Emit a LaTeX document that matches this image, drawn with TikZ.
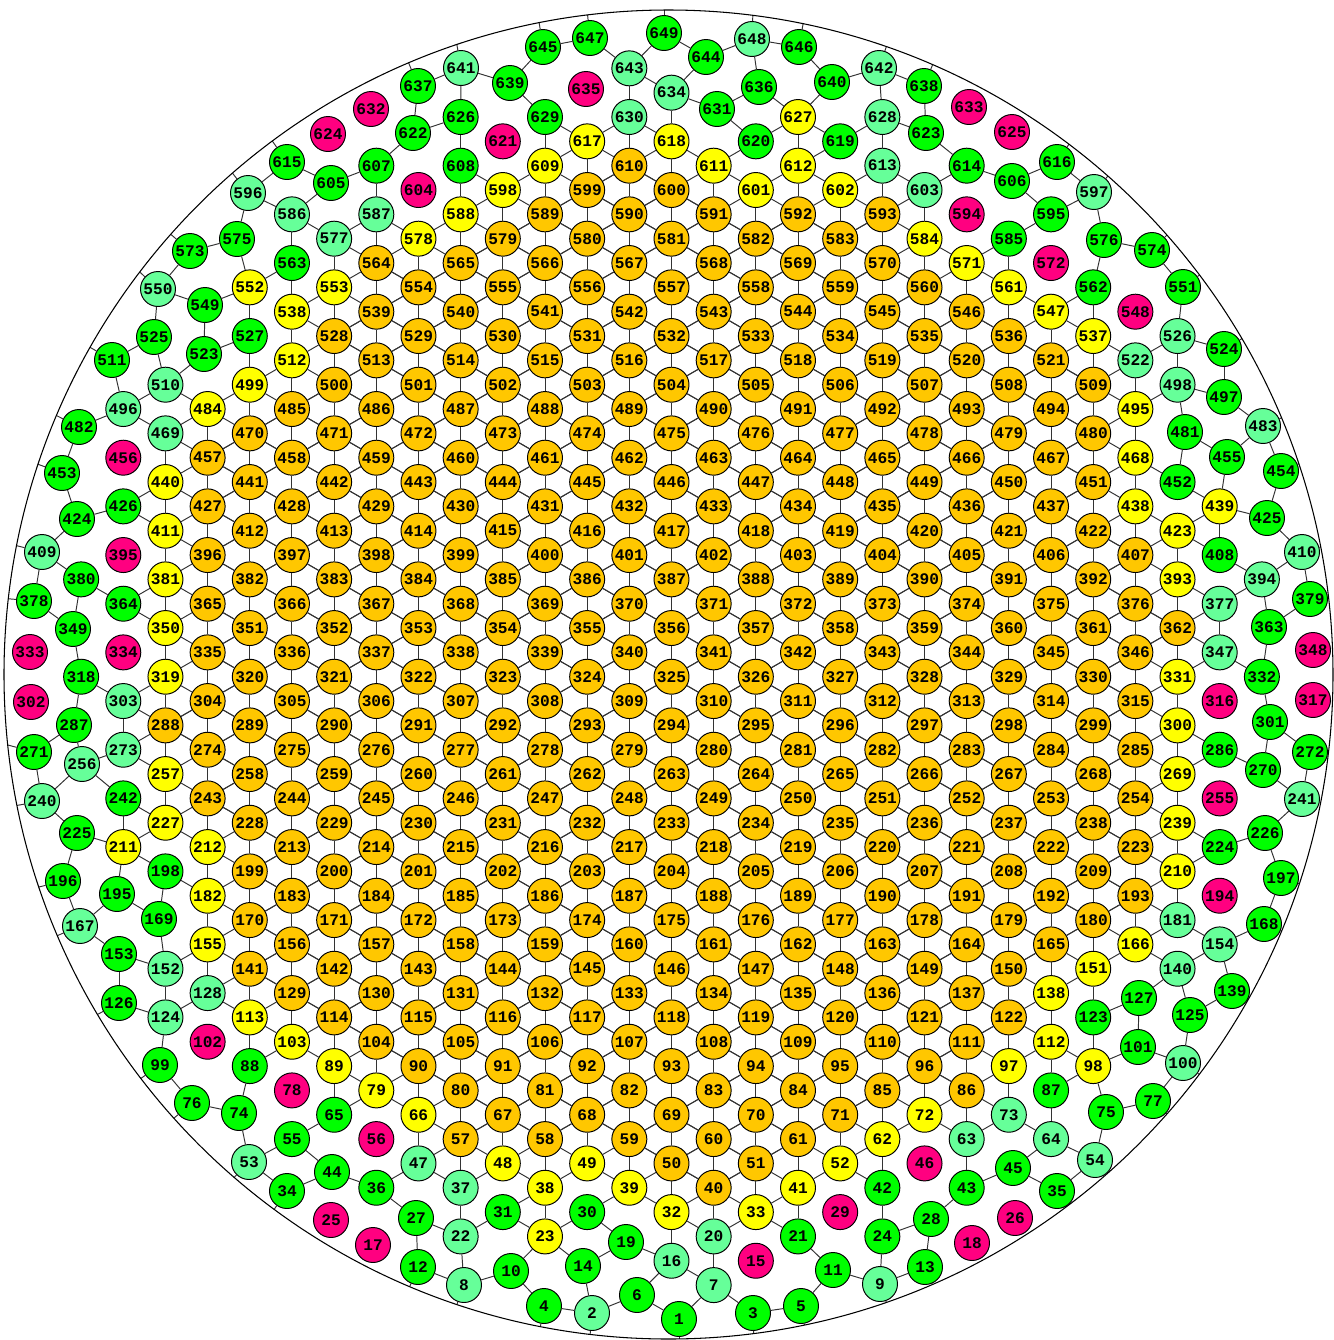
\documentclass[tikz,border=0pt]{standalone}
\usepackage{fontspec}
\setmonofont{Liberation Mono}

\definecolor{cO}{RGB}{255,199,0}
\definecolor{cY}{RGB}{255,255,0}
\definecolor{cG}{RGB}{0,255,0}
\definecolor{cT}{RGB}{102,255,153}
\definecolor{cM}{RGB}{255,0,128}

\tikzset{
  cellnode/.style={circle,draw=black,line width=0.55pt,minimum size=0.7cm,inner sep=0pt,
    font=\ttfamily\bfseries\fontsize{9.2}{10}\selectfont},
  bond/.style={draw=black!80,line width=0.55pt}
}

\makeatletter
\newcommand\ifnodeexists[3]{\pgfutil@ifundefined{pgf@sh@ns@#1}{#3}{#2}}
\makeatother

% lattice node: number, column i, row k, colour letter
\newcommand\lnode[4]{%
  \pgfmathtruncatemacro\LI{#2+20}\pgfmathtruncatemacro\LK{#3+30}%
  \node[cellnode,fill=c#4,alias=L\LI_\LK] (n#1) at ({671.5+42.17*(#2)},{-530.7-24.335*(#3)}) {#1};%
  \if#4O\xdef\orangelist{\orangelist,\LI/\LK}\fi}
% one lattice row: k, first i, first number, colours
\newcommand\lrow[4]{%
  \foreach \cc [count=\jj from 0] in {#4} {%
    \pgfmathtruncatemacro\nn{#3+\jj}\pgfmathtruncatemacro\ii{#2+2*\jj}%
    \lnode{\nn}{\ii}{#1}{\cc}}}

\begin{document}
\begin{tikzpicture}[x=0.02cm,y=0.02cm]
\useasboundingbox (0,0) rectangle (1334,-1340);
\gdef\orangelist{20/30}

\lrow{-16}{-2}{617}{Y,Y}
\lrow{-15}{-7}{607}{G,G,Y,O,Y,Y,T,G}
\lrow{-14}{-4}{598}{Y,O,O,Y,Y,T}
\lrow{-13}{-9}{586}{T,T,Y,O,O,O,O,O,M,G}
\lrow{-12}{-8}{577}{T,Y,O,O,O,O,O,Y,G}
\lrow{-11}{-9}{563}{G,O,O,O,O,O,O,O,Y,M}
\lrow{-10}{-10}{552}{Y,Y,O,O,O,O,O,O,O,Y,G}
\lrow{-9}{-9}{538}{Y,O,O,O,O,O,O,O,O,Y,M}
\lrow{-8}{-10}{527}{G,O,O,O,O,O,O,O,O,O,Y}
\lrow{-7}{-9}{512}{Y,O,O,O,O,O,O,O,O,O,T}
\lrow{-6}{-10}{499}{Y,O,O,O,O,O,O,O,O,O,O}
\lrow{-5}{-11}{484}{Y,O,O,O,O,O,O,O,O,O,O,Y}
\lrow{-4}{-12}{469}{T,O,O,O,O,O,O,O,O,O,O,O}
\lrow{-3}{-13}{456}{M,O,O,O,O,O,O,O,O,O,O,O,Y}
\lrow{-2}{-12}{440}{Y,O,O,O,O,O,O,O,O,O,O,O,G}
\lrow{-1}{-13}{426}{G,O,O,O,O,O,O,O,O,O,O,O,Y,Y}
\lrow{0}{-12}{411}{Y,O,O,O,O,O,O,O,O,O,O,O,Y}
\lrow{1}{-13}{395}{M,O,O,O,O,O,O,O,O,O,O,O,O,G}
\lrow{2}{-14}{380}{G,Y,O,O,O,O,O,O,O,O,O,O,O,Y,T}
\lrow{3}{-13}{364}{G,O,O,O,O,O,O,O,O,O,O,O,O,T}
\lrow{4}{-12}{350}{Y,O,O,O,O,O,O,O,O,O,O,O,O}
\lrow{5}{-13}{334}{M,O,O,O,O,O,O,O,O,O,O,O,O,T}
\lrow{6}{-14}{318}{G,Y,O,O,O,O,O,O,O,O,O,O,O,Y,G}
\lrow{7}{-13}{303}{T,O,O,O,O,O,O,O,O,O,O,O,O,M}
\lrow{8}{-12}{288}{O,O,O,O,O,O,O,O,O,O,O,O,Y}
\lrow{9}{-13}{273}{T,O,O,O,O,O,O,O,O,O,O,O,O,G}
\lrow{10}{-12}{257}{Y,O,O,O,O,O,O,O,O,O,O,O,Y}
\lrow{11}{-13}{242}{G,O,O,O,O,O,O,O,O,O,O,O,O,M}
\lrow{12}{-12}{227}{Y,O,O,O,O,O,O,O,O,O,O,O,Y}
\lrow{13}{-13}{211}{Y,Y,O,O,O,O,O,O,O,O,O,O,O,G}
\lrow{14}{-12}{198}{G,O,O,O,O,O,O,O,O,O,O,O,Y}
\lrow{15}{-11}{182}{Y,O,O,O,O,O,O,O,O,O,O,O,M}
\lrow{16}{-10}{170}{O,O,O,O,O,O,O,O,O,O,O,T}
\lrow{17}{-11}{155}{Y,O,O,O,O,O,O,O,O,O,O,Y}
\lrow{18}{-10}{141}{O,O,O,O,O,O,O,O,O,O,Y}
\lrow{19}{-11}{128}{T,O,O,O,O,O,O,O,O,O,Y}
\lrow{20}{-10}{113}{Y,O,O,O,O,O,O,O,O,O,G}
\lrow{21}{-11}{102}{M,Y,O,O,O,O,O,O,O,O,Y}
\lrow{22}{-10}{88}{G,Y,O,O,O,O,O,O,O,Y,Y}
\lrow{23}{-9}{78}{M,Y,O,O,O,O,O,O,O,G}
\lrow{24}{-8}{65}{G,Y,O,O,O,O,O,Y,T}
\lrow{25}{-9}{55}{G,M,O,O,O,O,O,Y,T,T}
\lrow{26}{-6}{47}{T,Y,Y,O,O,Y}
\lrow{27}{-7}{36}{G,T,Y,Y,O,Y,G,G}

% lattice nodes out of row order
\foreach \nn/\ii/\kk/\cc in {619/4/-16/G,620/2/-16/G,621/-4/-16/M,604/-6/-14/M,526/12/-8/T,
  498/12/-6/T,510/-12/-6/T,496/-13/-5/T,154/13/17/T,140/12/18/T,152/-12/18/T,124/-12/20/T,
  46/6/26/M,29/4/28/M,30/-2/28/G,31/-4/28/G,32/0/28/Y,33/2/28/Y,20/1/29/T,21/3/29/G,
  22/-5/29/T,23/-3/29/Y,24/5/29/G,16/0/30/T,15/2/30/M,7/1/31/T,626/-5/-17/G,627/3/-17/Y,
  628/5/-17/T,629/-3/-17/G,630/-1/-17/T,634/0/-18/T,643/-1/-19/T}
  {\lnode{\nn}{\ii}{\kk}{\cc}}

% nodes pushed off the lattice near the rim
\foreach \nn/\xx/\yy/\cc in {1/679/1319/G,2/592/1313/T,3/753/1313/G,4/544/1306/G,5/801/1306/G,
  6/637/1295/G,8/464/1285/T,9/880/1284/T,10/511/1271/G,11/833/1270/G,12/418/1267/G,
  13/925/1267/G,14/583/1266/G,17/373/1245/M,18/972/1243/M,19/626/1242/G,25/331/1220/M,
  26/1015/1218/M,27/416/1218/G,28/931/1219/G,34/287/1191/G,35/1057/1191/G,44/332/1172/G,
  45/1013/1168/G,53/249/1162/T,54/1095/1160/T,74/239/1113/G,75/1106/1112/G,76/192/1103/G,
  77/1153/1101/G,99/160/1065/G,100/1183/1063/T,101/1138/1047/G,125/1190/1015/G,
  126/119/1003/G,127/1139/998/G,139/1232/991/G,153/119/954/G,167/80/926/T,168/1264/924/G,
  169/159/919/G,195/117/894/G,196/63/881/G,197/1281/878/G,225/77/833/G,226/1265/833/G,
  240/42/801/T,241/1302/799/T,256/82/764/T,270/1263/770/G,271/34/752/G,272/1310/752/G,
  287/74/725/G,301/1270/722/G,302/31/702/M,317/1313/700/M,333/30/652/M,348/1313/650/M,
  349/73/629/G,363/1269/627/G,378/34/601/G,379/1310/599/G,409/42/552/T,410/1302/552/T,
  424/77/519/G,425/1267/518/G,453/62/473/G,454/1281/471/G,455/1227/457/G,481/1185/432/G,
  482/79/427/G,483/1263/426/T,497/1224/397/G,511/112/360/G,523/204/354/G,524/1224/349/G,
  525/154/337/G,549/205/305/G,550/158/289/T,551/1183/287/G,573/190/251/G,574/1152/250/G,
  575/237/239/G,576/1104/240/G,596/248/193/T,597/1094/192/T,605/331/183/G,606/1012/181/G,
  615/287/162/G,616/1057/162/G,622/413/133/G,623/926/133/G,624/328/134/M,625/1012/132/M,
  631/717/109/G,632/371/109/M,633/969/107/M,635/586/89/M,636/759/87/G,637/418/86/G,
  638/924/86/G,639/510/83/G,640/832/82/G,641/461/68/T,642/879/68/T,644/706/57/G,
  645/543/47/G,646/799/47/G,647/590/38/G,648/752/39/T,649/664/33/G}
  {\node[cellnode,fill=c\cc] (n\nn) at (\xx,-\yy) {\nn};}

% full-degree cells: all six neighbours
\foreach \LI/\LK in \orangelist {
  \foreach \dI/\dK in {0/2,1/1,1/-1,0/-2,-1/-1,-1/1} {
    \pgfmathtruncatemacro\PP{\LI+\dI}\pgfmathtruncatemacro\QQ{\LK+\dK}
    \ifnodeexists{L\PP_\QQ}{\draw[bond] (L\LI_\LK) -- (L\PP_\QQ);}{}
  }
}

% links between rim cells
\foreach \a/\b in {1/6,1/7,2/4,2/6,2/14,3/7,3/5,4/10,5/11,6/16,7/16,7/20,8/10,8/12,8/22,
  10/23,14/23,14/19,16/19,16/32,19/30,20/32,20/33,23/31,23/30,23/38,30/39,22/31,31/38,
  32/39,33/41,21/33,21/41,11/21,9/11,9/13,9/24,13/28,24/28,24/42,28/43,42/52,42/62,41/52,
  52/62,62/72,43/45,43/63,45/64,35/45,35/54,54/64,54/75,63/72,63/73,64/73,64/87,73/97,
  87/98,87/112,97/112,98/123,98/112,98/101,75/98,112/138,123/151,123/127,75/77,77/100,
  100/101,100/125,101/127,125/140,125/139,127/140,139/154,140/166,140/154,151/166,
  138/151,154/168,154/181,166/181,168/197,181/210,197/226,210/239,210/224,224/239,
  224/226,226/241,239/269,241/270,241/272,269/300,269/286,270/286,270/301,272/301,
  286/300,300/331,301/332,331/347,332/347,332/363,347/377,363/394,363/379,377/393,
  377/394,379/410,393/423,394/408,394/410,408/439,408/423,410/425,423/438,423/439,
  425/439,425/454,438/468,439/455,439/452,452/481,452/468,454/483,455/481,455/483,
  468/495,481/498,483/497,495/522,495/498,497/498,497/524,498/526,522/537,522/526,
  524/526,526/551,537/562,537/547,547/561,547/562,551/574,561/585,561/571,562/576,
  571/584,571/585,574/576,576/597,584/603,585/595,595/597,595/606,597/616,601/611,
  601/612,602/612,602/613,603/613,603/614,606/614,606/616,611/618,611/620,612/627,
  612/619,613/628,614/623,617/629,617/630,609/617,618/634,618/630,609/629,598/609,
  598/608,588/598,588/608,578/588,578/587,587/607,577/587,577/586,553/577,586/605,
  586/596,563/586,552/563,538/563,538/553,552/575,549/552,527/552,512/538,523/527,
  499/527,499/512,484/499,523/549,510/523,549/550,525/550,550/573,573/575,575/596,
  596/615,605/615,605/607,607/622,608/626,622/626,622/637,626/641,629/639,630/643,
  631/634,631/636,620/631,620/627,627/636,627/640,619/627,619/628,628/642,623/628,
  623/638,634/643,634/644,636/648,638/642,640/646,640/642,637/641,639/641,643/647,
  643/649,644/649,644/648,645/647,639/645,646/648,
  510/525,496/510,484/510,511/525,496/511,469/496,482/496,453/482,424/453,469/484,
  440/469,426/440,411/440,424/426,409/424,411/426,381/411,380/409,378/409,364/380,
  349/380,364/381,350/381,350/364,349/378,318/349,319/350,303/318,287/318,303/319,
  273/303,271/287,256/287,257/273,256/273,242/256,240/256,227/257,240/271,225/240,
  211/225,196/225,227/242,211/227,212/227,211/242,198/211,195/211,182/212,167/196,
  167/195,169/195,182/198,169/198,155/182,153/167,152/169,152/153,126/153,152/155,
  128/155,124/152,124/128,113/128,124/126,99/124,103/113,88/113,76/99,88/103,89/103,
  74/88,79/89,65/89,74/76,53/74,65/79,66/79,55/65,47/66,53/55,34/53,44/55,34/44,36/44,
  36/47,27/36,37/47,37/48,22/37,38/48,38/49,39/49,22/27,12/27}
  {\draw[bond] (n\a) -- (n\b);}

% links that leave the disc
\begin{scope}
  \clip (668.5,-674.5) circle (664.5);
  \foreach \a/\ang in {1/270,2/265,3/272,4/260,5/280,8/250,12/247,9/289,13/293,34/235,
    53/226,76/220,99/215,126/208,167/203,196/194,240/190,271/165,378/175,409/166,453/160,
    482/153,511/150,550/137,573/139,596/128,615/125,637/112,641/100,645/99,647/96,649/90,
    648/88,646/80,642/71,638/68,616/56,597/49,574/45,551/36,524/30,483/24,454/22,410/15,
    379/6,272/356,241/350,197/343,168/338,139/331,100/325,77/318,54/312,35/308}
    {\draw[bond] (n\a.\ang) -- ++(\ang:40);}
\end{scope}
\draw[line width=0.6pt] (668.5,-674.5) circle (664.5);
\end{tikzpicture}
\end{document}
